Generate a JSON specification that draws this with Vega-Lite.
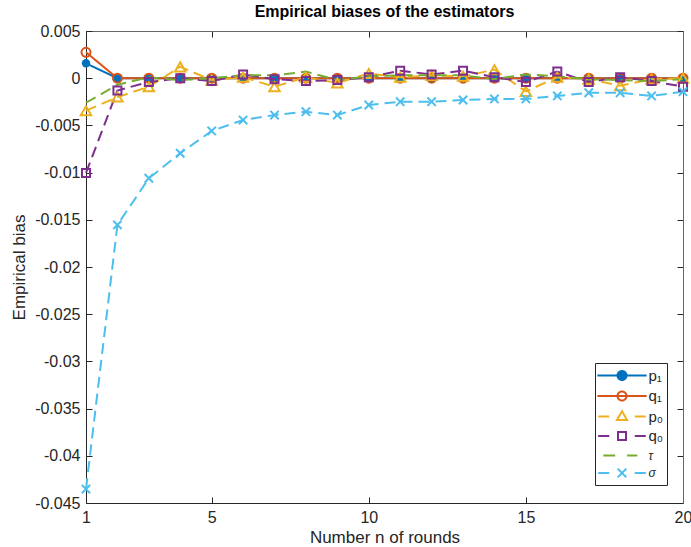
{
  "$schema": "https://vega.github.io/schema/vega-lite/v6.json",
  "autosize": {"type": "none"},
  "padding": {"left": 86, "top": 31, "right": 8, "bottom": 44},
  "width": 597,
  "height": 472,
  "background": "white",
  "title": {"text": "Empirical biases of the estimators", "font": "Liberation Sans", "fontSize": 16, "fontWeight": "bold", "color": "#000000", "offset": 3},
  "config": {
    "view": {"stroke": null},
    "axis": {"grid": false}
  },
  "data": {"values": [
    {"n":1,"series":"p₁","bias":0.00158},{"n":2,"series":"p₁","bias":0},{"n":3,"series":"p₁","bias":0},{"n":4,"series":"p₁","bias":0},{"n":5,"series":"p₁","bias":0},{"n":6,"series":"p₁","bias":0},{"n":7,"series":"p₁","bias":0},{"n":8,"series":"p₁","bias":0},{"n":9,"series":"p₁","bias":0},{"n":10,"series":"p₁","bias":0},{"n":11,"series":"p₁","bias":0},{"n":12,"series":"p₁","bias":0},{"n":13,"series":"p₁","bias":0},{"n":14,"series":"p₁","bias":0},{"n":15,"series":"p₁","bias":0},{"n":16,"series":"p₁","bias":0},{"n":17,"series":"p₁","bias":0},{"n":18,"series":"p₁","bias":0},{"n":19,"series":"p₁","bias":0},{"n":20,"series":"p₁","bias":0},
    {"n":1,"series":"q₁","bias":0.00274},{"n":2,"series":"q₁","bias":0},{"n":3,"series":"q₁","bias":0},{"n":4,"series":"q₁","bias":0},{"n":5,"series":"q₁","bias":0},{"n":6,"series":"q₁","bias":0},{"n":7,"series":"q₁","bias":0},{"n":8,"series":"q₁","bias":0},{"n":9,"series":"q₁","bias":0},{"n":10,"series":"q₁","bias":0},{"n":11,"series":"q₁","bias":0},{"n":12,"series":"q₁","bias":0},{"n":13,"series":"q₁","bias":0},{"n":14,"series":"q₁","bias":0},{"n":15,"series":"q₁","bias":0},{"n":16,"series":"q₁","bias":0},{"n":17,"series":"q₁","bias":0},{"n":18,"series":"q₁","bias":0},{"n":19,"series":"q₁","bias":0},{"n":20,"series":"q₁","bias":0},
    {"n":1,"series":"p₀","bias":-0.00344},{"n":2,"series":"p₀","bias":-0.0020},{"n":3,"series":"p₀","bias":-0.0009},{"n":4,"series":"p₀","bias":0.0012},{"n":5,"series":"p₀","bias":-0.0002},{"n":6,"series":"p₀","bias":0.0001},{"n":7,"series":"p₀","bias":-0.0009},{"n":8,"series":"p₀","bias":0.0001},{"n":9,"series":"p₀","bias":-0.0005},{"n":10,"series":"p₀","bias":0.0005},{"n":11,"series":"p₀","bias":0.0001},{"n":12,"series":"p₀","bias":0.0003},{"n":13,"series":"p₀","bias":0.0002},{"n":14,"series":"p₀","bias":0.0009},{"n":15,"series":"p₀","bias":-0.0014},{"n":16,"series":"p₀","bias":0.0001},{"n":17,"series":"p₀","bias":-0.0001},{"n":18,"series":"p₀","bias":-0.0008},{"n":19,"series":"p₀","bias":-0.0001},{"n":20,"series":"p₀","bias":0.0000},
    {"n":1,"series":"q₀","bias":-0.01004},{"n":2,"series":"q₀","bias":-0.0013},{"n":3,"series":"q₀","bias":-0.0004},{"n":4,"series":"q₀","bias":0.0000},{"n":5,"series":"q₀","bias":-0.0003},{"n":6,"series":"q₀","bias":0.0004},{"n":7,"series":"q₀","bias":-0.0001},{"n":8,"series":"q₀","bias":-0.0003},{"n":9,"series":"q₀","bias":-0.0002},{"n":10,"series":"q₀","bias":0.0001},{"n":11,"series":"q₀","bias":0.0008},{"n":12,"series":"q₀","bias":0.0004},{"n":13,"series":"q₀","bias":0.0008},{"n":14,"series":"q₀","bias":0.0001},{"n":15,"series":"q₀","bias":-0.0004},{"n":16,"series":"q₀","bias":0.0007},{"n":17,"series":"q₀","bias":-0.0004},{"n":18,"series":"q₀","bias":0.0001},{"n":19,"series":"q₀","bias":-0.0003},{"n":20,"series":"q₀","bias":-0.0009},
    {"n":1,"series":"τ","bias":-0.0026},{"n":2,"series":"τ","bias":-0.0007},{"n":3,"series":"τ","bias":0.0001},{"n":4,"series":"τ","bias":-0.0002},{"n":5,"series":"τ","bias":0.0000},{"n":6,"series":"τ","bias":0.0003},{"n":7,"series":"τ","bias":0.0003},{"n":8,"series":"τ","bias":0.0007},{"n":9,"series":"τ","bias":-0.0002},{"n":10,"series":"τ","bias":0.0002},{"n":11,"series":"τ","bias":0.0003},{"n":12,"series":"τ","bias":0.0003},{"n":13,"series":"τ","bias":0.0003},{"n":14,"series":"τ","bias":-0.0001},{"n":15,"series":"τ","bias":0.0004},{"n":16,"series":"τ","bias":0.0002},{"n":17,"series":"τ","bias":-0.0001},{"n":18,"series":"τ","bias":-0.0002},{"n":19,"series":"τ","bias":-0.0003},{"n":20,"series":"τ","bias":-0.0001},
    {"n":1,"series":"σ","bias":-0.04352},{"n":2,"series":"σ","bias":-0.01554},{"n":3,"series":"σ","bias":-0.0106},{"n":4,"series":"σ","bias":-0.00795},{"n":5,"series":"σ","bias":-0.00559},{"n":6,"series":"σ","bias":-0.00443},{"n":7,"series":"σ","bias":-0.0039},{"n":8,"series":"σ","bias":-0.00355},{"n":9,"series":"σ","bias":-0.0039},{"n":10,"series":"σ","bias":-0.00284},{"n":11,"series":"σ","bias":-0.00249},{"n":12,"series":"σ","bias":-0.00249},{"n":13,"series":"σ","bias":-0.00231},{"n":14,"series":"σ","bias":-0.0022},{"n":15,"series":"σ","bias":-0.0022},{"n":16,"series":"σ","bias":-0.00188},{"n":17,"series":"σ","bias":-0.00154},{"n":18,"series":"σ","bias":-0.00154},{"n":19,"series":"σ","bias":-0.00188},{"n":20,"series":"σ","bias":-0.00143}
  ]},
  "resolve": {"axis": {"x": "independent", "y": "independent"}},
  "layer": [
    {
      "transform": [{"filter": "datum.series === 'p₁' || datum.series === 'q₁'"}],
      "mark": {"type": "line", "strokeWidth": 2},
      "encoding": {
        "x": {"field": "n", "type": "quantitative", "scale": {"domain": [1, 20], "nice": false, "zero": false},
          "axis": {"orient": "bottom", "values": [1, 5, 10, 15, 20], "title": "Number n of rounds", "tickSize": -6, "labelPadding": 12, "labelFlush": false,
            "domainColor": "#262626", "tickColor": "#262626", "labelFont": "Liberation Sans", "labelFontSize": 16, "labelColor": "#262626",
            "titleFont": "Liberation Sans", "titleFontSize": 17, "titleFontWeight": "normal", "titleColor": "#262626", "titlePadding": 4}},
        "y": {"field": "bias", "type": "quantitative", "scale": {"domain": [-0.045, 0.005], "nice": false, "zero": false},
          "axis": {"orient": "left", "values": [0.005, 0, -0.005, -0.01, -0.015, -0.02, -0.025, -0.03, -0.035, -0.04, -0.045], "title": "Empirical bias", "tickSize": -6, "labelPadding": 12,
            "labelExpr": "replace(format(datum.value, '~g'), '−', '-')", "labelFlush": false,
            "domainColor": "#262626", "tickColor": "#262626", "labelFont": "Liberation Sans", "labelFontSize": 16, "labelColor": "#262626",
            "titleFont": "Liberation Sans", "titleFontSize": 17, "titleFontWeight": "normal", "titleColor": "#262626", "titlePadding": 6}},
        "color": {"field": "series", "type": "nominal",
          "scale": {"domain": ["p₁", "q₁", "p₀", "q₀", "τ", "σ"], "range": ["#0072BD", "#D95319", "#EDB120", "#7E2F8E", "#77AC30", "#4DBEEE"]},
          "legend": {"orient": "none", "legendX": 509, "legendY": 332, "title": null,
            "symbolSize": 289, "symbolStrokeWidth": 2, "symbolOffset": 14.5, "labelOffset": 17, "rowPadding": 1.5, "padding": 3,
            "strokeColor": "#262626", "fillColor": "white",
            "labelFont": "Liberation Sans", "labelFontSize": 15, "labelColor": "#262626",
            "encode": {
              "symbols": {"update": {
                "shape": {"signal": "(datum.value === 'p₁' || datum.value === 'q₁') ? 'M-2.9,0H2.9M0.53,0A0.53,0.53 0 1,1 -0.53,0A0.53,0.53 0 1,1 0.53,0Z' : datum.value === 'p₀' ? 'M-2.8,0H-1.5M1.5,0H2.8M0,-0.62L0.6,0.42L-0.6,0.42Z' : datum.value === 'q₀' ? 'M-2.8,0H-1.5M1.5,0H2.8M-0.47,-0.47H0.47V0.47H-0.47Z' : datum.value === 'τ' ? 'M-2.2,0H-0.8M0.6,0H1.8' : 'M-2.8,0H-1.5M1.5,0H2.8M-0.5,-0.5L0.5,0.5M-0.5,0.5L0.5,-0.5'"},
                "fill": {"signal": "datum.value === 'p₁' ? '#0072BD' : 'transparent'"},
                "strokeDash": {"value": [1, 0]},
                "strokeWidth": {"value": 2}
              }},
              "labels": {"update": {
                "fontStyle": {"signal": "(datum.value === 'τ' || datum.value === 'σ') ? 'italic' : 'normal'"},
                "fontSize": {"signal": "(datum.value === 'τ' || datum.value === 'σ') ? 12 : 15"}
              }}
            }
          }}
      }
    },
    {
      "transform": [{"filter": "datum.series === 'p₁'"}],
      "mark": {"type": "point", "shape": "circle", "filled": true, "size": 70, "opacity": 1, "color": "#0072BD"},
      "encoding": {
        "x": {"field": "n", "type": "quantitative",
          "axis": {"orient": "top", "values": [1, 5, 10, 15, 20], "labels": false, "title": null, "tickSize": -6, "domainColor": "#666666", "tickColor": "#262626"}},
        "y": {"field": "bias", "type": "quantitative",
          "axis": {"orient": "right", "values": [0.005, 0, -0.005, -0.01, -0.015, -0.02, -0.025, -0.03, -0.035, -0.04, -0.045], "labels": false, "title": null, "tickSize": -6, "domainColor": "#666666", "tickColor": "#262626"}}
      }
    },
    {
      "transform": [{"filter": "datum.series === 'q₁'"}],
      "mark": {"type": "point", "shape": "circle", "filled": false, "size": 81, "strokeWidth": 2, "opacity": 1, "color": "#D95319"},
      "encoding": {
        "x": {"field": "n", "type": "quantitative", "axis": null},
        "y": {"field": "bias", "type": "quantitative", "axis": null}
      }
    },
    {
      "transform": [{"filter": "datum.series !== 'p₁' && datum.series !== 'q₁'"}],
      "mark": {"type": "line", "strokeWidth": 2, "strokeDash": [11, 6]},
      "encoding": {
        "x": {"field": "n", "type": "quantitative", "axis": null},
        "y": {"field": "bias", "type": "quantitative", "axis": null},
        "color": {"field": "series", "type": "nominal"}
      }
    },
    {
      "transform": [{"filter": "datum.series === 'p₀'"}],
      "mark": {"type": "point", "shape": "triangle-up", "filled": false, "size": 110, "strokeWidth": 2, "opacity": 1, "color": "#EDB120"},
      "encoding": {
        "x": {"field": "n", "type": "quantitative", "axis": null},
        "y": {"field": "bias", "type": "quantitative", "axis": null}
      }
    },
    {
      "transform": [{"filter": "datum.series === 'q₀'"}],
      "mark": {"type": "point", "shape": "square", "filled": false, "size": 64, "strokeWidth": 2, "opacity": 1, "color": "#7E2F8E"},
      "encoding": {
        "x": {"field": "n", "type": "quantitative", "axis": null},
        "y": {"field": "bias", "type": "quantitative", "axis": null}
      }
    },
    {
      "transform": [{"filter": "datum.series === 'σ'"}],
      "mark": {"type": "point", "shape": "M-1,-1L1,1M-1,1L1,-1", "filled": false, "size": 70, "strokeWidth": 2, "opacity": 1, "color": "#4DBEEE"},
      "encoding": {
        "x": {"field": "n", "type": "quantitative", "axis": null},
        "y": {"field": "bias", "type": "quantitative", "axis": null}
      }
    }
  ]
}
